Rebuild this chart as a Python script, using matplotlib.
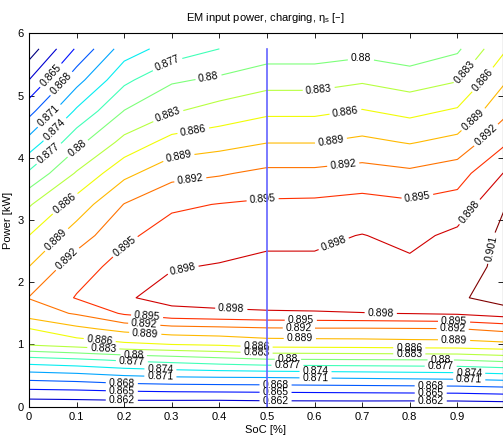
import numpy as np
import matplotlib
matplotlib.use("Agg")
import matplotlib.pyplot as plt
from matplotlib.colors import Normalize

plt.rcParams['font.family'] = ['Liberation Sans', 'DejaVu Sans']
plt.rcParams['mathtext.default'] = 'regular'

# ---------------- data ----------------
soc = [0.0, 0.1, 0.2, 0.3, 0.4, 0.5, 0.6, 0.7, 0.8, 0.9, 1.0]
power_kw = [0.0, 0.25, 0.5, 0.75, 1.0, 1.25, 1.5, 1.75,
            2.25, 2.75, 3.25, 3.75, 4.25, 4.75, 5.25, 5.75]

# efficiency rows (one per power level, across SoC)
eta_p000 = [0.8597, 0.8598, 0.8599, 0.8598, 0.8597, 0.8599, 0.8599, 0.8599, 0.8598, 0.8598, 0.8600]
eta_p025 = [0.8644, 0.8646, 0.8650, 0.8652, 0.8653, 0.8654, 0.8655, 0.8656, 0.8657, 0.8658, 0.8662]
eta_p050 = [0.8696, 0.8701, 0.8710, 0.8715, 0.8717, 0.8718, 0.8720, 0.8722, 0.8724, 0.8726, 0.8731]
eta_p075 = [0.8757, 0.8764, 0.8774, 0.8781, 0.8789, 0.8796, 0.8797, 0.8798, 0.8799, 0.8800, 0.8808]
eta_p100 = [0.8833, 0.8843, 0.8854, 0.8860, 0.8864, 0.8873, 0.8874, 0.8875, 0.8877, 0.8878, 0.8883]
eta_p125 = [0.8859, 0.8883, 0.8899, 0.8909, 0.8912, 0.8916, 0.8917, 0.8917, 0.8918, 0.8919, 0.8928]
eta_p150 = [0.8905, 0.8923, 0.8954, 0.8969, 0.8973, 0.8976, 0.8977, 0.8979, 0.8981, 0.8984, 0.8995]
eta_p175 = [0.8921, 0.8952, 0.8976, 0.8992, 0.8995, 0.8996, 0.8997, 0.8998, 0.8998, 0.9005, 0.9025]
eta_p225 = [0.8890, 0.8937, 0.8961, 0.8978, 0.8982, 0.8986, 0.8986, 0.8990, 0.8986, 0.8995, 0.9019]
eta_p275 = [0.8860, 0.8905, 0.8944, 0.8963, 0.8966, 0.8974, 0.8974, 0.8981, 0.8972, 0.8987, 0.9017]
eta_p325 = [0.8827, 0.8873, 0.8921, 0.8945, 0.8951, 0.8955, 0.8956, 0.8960, 0.8955, 0.8962, 0.9009]
eta_p375 = [0.8775, 0.8833, 0.8882, 0.8910, 0.8917, 0.8927, 0.8927, 0.8932, 0.8926, 0.8937, 0.8982]
eta_p425 = [0.8721, 0.8791, 0.8839, 0.8871, 0.8879, 0.8889, 0.8889, 0.8897, 0.8888, 0.8899, 0.8946]
eta_p475 = [0.8670, 0.8745, 0.8801, 0.8827, 0.8842, 0.8854, 0.8854, 0.8862, 0.8852, 0.8864, 0.8913]
eta_p525 = [0.8620, 0.8699, 0.8763, 0.8796, 0.8805, 0.8818, 0.8818, 0.8826, 0.8816, 0.8828, 0.8887]
eta_p575 = [0.8573, 0.8654, 0.8725, 0.8753, 0.8770, 0.8783, 0.8783, 0.8789, 0.8780, 0.8795, 0.8857]

levels = [0.859, 0.862, 0.865, 0.868, 0.871, 0.874, 0.877, 0.880,
          0.883, 0.886, 0.889, 0.892, 0.895, 0.898, 0.901]

soc_marker = 0.5

x_ticks = [0, 0.1, 0.2, 0.3, 0.4, 0.5, 0.6, 0.7, 0.8, 0.9]
x_tick_labels = ['0', '0.1', '0.2', '0.3', '0.4', '0.5', '0.6', '0.7', '0.8', '0.9']
y_ticks = [0, 1, 2, 3, 4, 5, 6]

# label anchor positions (layout only)
label_pos = {
    0.862: [(0.195, 0.108), (0.518, 0.096), (0.844, 0.096)],
    0.865: [(0.045, 5.33), (0.195, 0.24), (0.518, 0.23), (0.844, 0.23)],
    0.868: [(0.067, 5.2), (0.195, 0.376), (0.518, 0.365), (0.844, 0.365)],
    0.871: [(0.044, 4.66), (0.276, 0.48), (0.602, 0.47), (0.925, 0.47)],
    0.874: [(0.055, 4.45), (0.276, 0.58), (0.602, 0.58), (0.925, 0.57)],
    0.877: [(0.041, 4.07), (0.29, 5.52), (0.216, 0.71), (0.543, 0.70), (0.865, 0.70)],
    0.880: [(0.104, 4.13), (0.377, 5.30), (0.697, 5.62), (0.22, 0.815), (0.544, 0.80), (0.865, 0.79)],
    0.883: [(0.29, 4.72), (0.609, 5.08), (0.914, 5.39), (0.156, 0.91), (0.478, 0.85), (0.799, 0.85)],
    0.886: [(0.072, 3.30), (0.345, 4.44), (0.665, 4.73), (0.954, 5.25), (0.148, 1.02), (0.478, 0.95), (0.799, 0.95)],
    0.889: [(0.058, 2.68), (0.314, 4.02), (0.634, 4.29), (0.934, 4.61), (0.244, 1.15), (0.569, 1.07), (0.893, 1.06)],
    0.892: [(0.086, 2.33), (0.339, 3.64), (0.66, 3.90), (0.956, 4.40), (0.242, 1.31), (0.567, 1.28), (0.89, 1.26)],
    0.895: [(0.204, 2.55), (0.49, 3.39), (0.815, 3.40), (0.248, 1.44), (0.571, 1.38), (0.893, 1.37)],
    0.898: [(0.325, 2.13), (0.637, 2.68), (0.921, 3.16), (0.425, 1.57), (0.739, 1.51)],
    0.901: [(0.97, 2.55)],
}

# ---------------- figure ----------------
W, H = 503, 438
fig = plt.figure(figsize=(W / 100, H / 100), dpi=100)
ax_l, ax_r, ax_t, ax_b = 29, 502.6, 33.3, 406.7
ax = fig.add_axes([ax_l / W, 1 - ax_b / H, (ax_r - ax_l) / W, (ax_b - ax_t) / H])

Z = np.array([eta_p000, eta_p025, eta_p050, eta_p075, eta_p100, eta_p125, eta_p150,
              eta_p175, eta_p225, eta_p275, eta_p325, eta_p375, eta_p425, eta_p475,
              eta_p525, eta_p575])
X, Y = np.meshgrid(soc, power_kw)

ax.set_xlim(0, 0.995)
ax.set_ylim(0, 6)

cmap = plt.get_cmap('jet')
norm = Normalize(vmin=levels[0], vmax=levels[-1])
fmt = lambda v: ('%.3f' % v).rstrip('0')

for lev in levels:
    cs = ax.contour(X, Y, Z, levels=[lev], colors=[cmap(norm(lev))], linewidths=0.8)
    pts = label_pos.get(round(lev, 3))
    if pts:
        ax.clabel(cs, manual=pts, inline=True, inline_spacing=3,
                  fontsize=7.5, fmt=fmt, colors='black')

ax.set_xlim(0, 0.995)
ax.set_ylim(0, 6)

ax.plot([soc_marker, soc_marker], [power_kw[0], power_kw[-1]],
        color='#6464ff', lw=1.2, zorder=10)

ax.set_xticks(x_ticks)
ax.set_xticklabels(x_tick_labels)
ax.set_yticks(y_ticks)
ax.tick_params(direction='in', top=True, right=True, length=3.5, width=0.6,
               labelsize=8, pad=4)
for s in ax.spines.values():
    s.set_linewidth(0.8)

ax.set_title('EM input power, charging, η$_s$ [–]', fontsize=8, pad=9)
ax.set_xlabel('SoC [%]', fontsize=8, labelpad=2)
ax.set_ylabel('Power [kW]', fontsize=8, labelpad=3)

fig.savefig('out.png', dpi=100)
